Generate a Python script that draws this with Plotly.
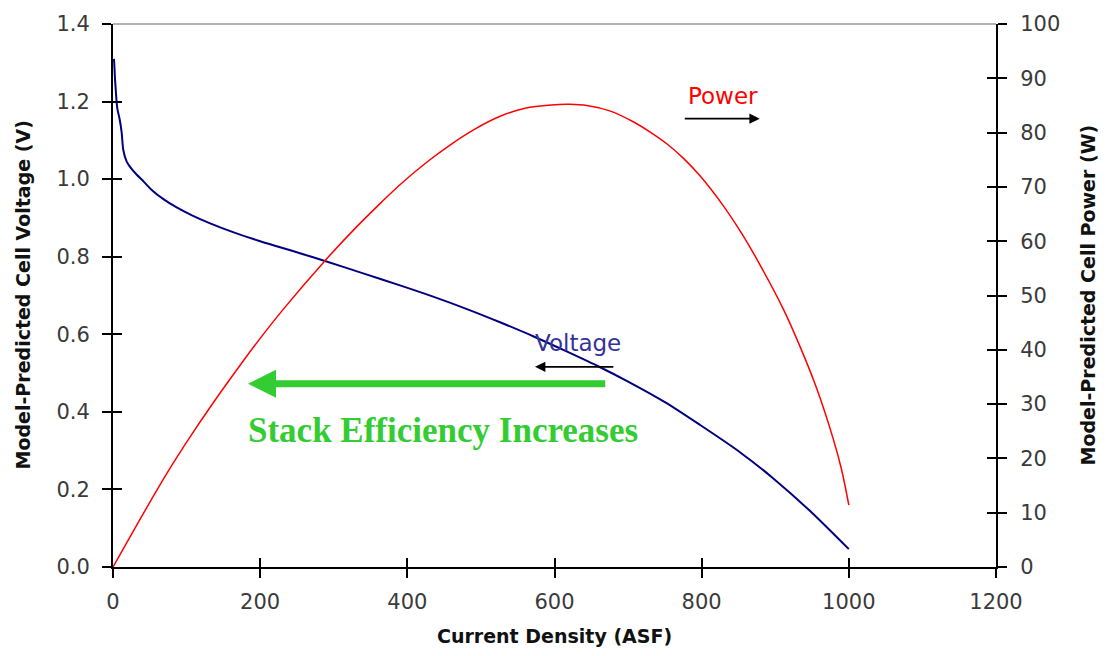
import plotly.graph_objects as go

# Voltage curve (left axis, V)
volt_x = [1, 1.4, 2.7, 5.9, 9, 11.8, 14, 18.6, 25, 32, 42, 52.6, 68, 86.5, 108, 132, 165,
          200, 254, 288, 340, 390, 435, 481, 526, 571, 615, 662, 700, 750, 798, 852, 897,
          947, 1000]
volt_y = [1.31, 1.307, 1.26, 1.182, 1.155, 1.12, 1.075, 1.045, 1.027, 1.012, 0.993, 0.972,
          0.949, 0.927, 0.906, 0.886, 0.862, 0.84, 0.809, 0.789, 0.757, 0.726, 0.697, 0.665,
          0.631, 0.595, 0.557, 0.515, 0.478, 0.425, 0.366, 0.296, 0.229, 0.145, 0.046]

# Power curve (right axis, W)
power_x = [0, 41, 73, 105, 136, 173, 200, 231, 286, 330, 365, 390, 425, 458, 490, 526, 560,
           596, 620, 644, 675, 707, 730, 753, 775, 798, 829, 855, 877, 911, 934, 956, 979,
           990, 1000]
power_y = [0, 9.8, 17.2, 24.0, 30.2, 37.2, 42.1, 47.4, 56.1, 62.5, 67.2, 70.4, 74.4, 77.7,
           80.5, 83.0, 84.5, 85.1, 85.2, 85.0, 84.0, 82.0, 80.1, 77.9, 75.3, 72.0, 66.6,
           61.3, 56.2, 47.5, 40.5, 33.0, 23.5, 18.0, 11.4]

x_ticks = [0, 200, 400, 600, 800, 1000, 1200]
v_ticks = [0.0, 0.2, 0.4, 0.6, 0.8, 1.0, 1.2, 1.4]
p_ticks = [0, 10, 20, 30, 40, 50, 60, 70, 80, 90, 100]

FONT = "DejaVu Sans, Arial, sans-serif"
TICKFONT = dict(family=FONT, size=21, color="#3a3a3a")
TITLEFONT = dict(family=FONT, size=19, color="#111111")

fig = go.Figure()
fig.add_trace(go.Scatter(x=volt_x, y=volt_y, mode="lines",
                         line=dict(color="#000080", width=2, shape="spline", smoothing=0.8),
                         yaxis="y"))
fig.add_trace(go.Scatter(x=power_x, y=power_y, mode="lines",
                         line=dict(color="red", width=1.5, shape="spline", smoothing=1.0),
                         yaxis="y2"))

axis_common = dict(showgrid=False, zeroline=False, showline=True, linecolor="black",
                   linewidth=2, ticks="outside", ticklen=9, tickwidth=2, tickcolor="black")
inner_common = dict(showticklabels=False, showgrid=False, zeroline=False, showline=False,
                    ticks="inside", ticklen=9, tickwidth=2, tickcolor="black")

fig.update_layout(
    width=1109, height=656,
    margin=dict(l=113, r=113, t=22, b=89),
    paper_bgcolor="white", plot_bgcolor="white",
    showlegend=False,
    xaxis=dict(range=[0, 1200], tickvals=x_ticks, ticktext=[str(v) for v in x_ticks],
               tickfont=TICKFONT, ticklabelstandoff=6, **axis_common),
    yaxis=dict(range=[0, 1.4], tickvals=v_ticks, ticktext=[f"{v:.1f}" for v in v_ticks],
               tickfont=TICKFONT, ticklabelstandoff=8, **axis_common),
    yaxis2=dict(range=[0, 100], tickvals=p_ticks, ticktext=[str(v) for v in p_ticks],
                overlaying="y", side="right", tickfont=TICKFONT, ticklabelstandoff=9,
                **axis_common),
    # inner halves of the crossing ticks
    xaxis2=dict(range=[0, 1200], tickvals=x_ticks, overlaying="x", anchor="y3",
                side="bottom", **inner_common),
    yaxis3=dict(range=[0, 1.4], tickvals=v_ticks, overlaying="y", anchor="x2",
                side="left", **inner_common),
    yaxis4=dict(range=[0, 100], tickvals=p_ticks, overlaying="y", anchor="x2",
                side="right", **inner_common),
)

# invisible traces so the inner-tick axes are drawn
fig.add_trace(go.Scatter(x=[0], y=[0], xaxis="x2", yaxis="y3", mode="markers",
                         marker=dict(opacity=0), hoverinfo="skip"))
fig.add_trace(go.Scatter(x=[0], y=[0], xaxis="x2", yaxis="y4", mode="markers",
                         marker=dict(opacity=0), hoverinfo="skip"))

# top border line (grey)
fig.add_shape(type="line", xref="paper", yref="paper", x0=0, x1=1, y0=1, y1=1,
              line=dict(color="#999999", width=1.5))

# Axis titles
fig.add_annotation(x=0.5, y=0, xref="paper", yref="paper", yshift=-69, showarrow=False,
                   text="<b>Current Density (ASF)</b>", font=TITLEFONT,
                   xanchor="center", yanchor="middle")
fig.add_annotation(x=0, y=0.5, xref="paper", yref="paper", xshift=-91, showarrow=False,
                   text="<b>Model-Predicted Cell Voltage (V)</b>", font=TITLEFONT,
                   textangle=-90, xanchor="center", yanchor="middle")
fig.add_annotation(x=1, y=0.5, xref="paper", yref="paper", xshift=91, showarrow=False,
                   text="<b>Model-Predicted Cell Power (W)</b>", font=TITLEFONT,
                   textangle=-90, xanchor="center", yanchor="middle")

# Labels
fig.add_annotation(x=829, y=1.215, xref="x", yref="y", text="Power", showarrow=False,
                   font=dict(family=FONT, size=23, color="red"))
fig.add_annotation(x=879, y=1.156, ax=775, ay=1.156, xref="x", yref="y", axref="x", ayref="y",
                   text="", showarrow=True, arrowhead=2, arrowsize=1.3, arrowwidth=1.6,
                   arrowcolor="black", standoff=0, startstandoff=0)
fig.add_annotation(x=632, y=0.578, xref="x", yref="y", text="Voltage", showarrow=False,
                   font=dict(family=FONT, size=23, color="#333399"))
fig.add_annotation(x=573.5, y=0.516, ax=682, ay=0.516, xref="x", yref="y", axref="x", ayref="y",
                   text="", showarrow=True, arrowhead=2, arrowsize=1.3, arrowwidth=1.6,
                   arrowcolor="black", standoff=0, startstandoff=0)
fig.add_annotation(x=183.5, y=0.4727, ax=671, ay=0.4727, xref="x", yref="y", axref="x", ayref="y",
                   text="", showarrow=True, arrowhead=2, arrowsize=0.8, arrowwidth=7,
                   arrowcolor="#33cc33", standoff=0, startstandoff=0)
fig.add_annotation(x=448.5, y=0.352, xref="x", yref="y",
                   text="<b>Stack Efficiency Increases</b>", showarrow=False,
                   font=dict(family="Times New Roman, Liberation Serif, serif", size=35,
                             color="#33cc33"))

fig.write_html("out.html")
